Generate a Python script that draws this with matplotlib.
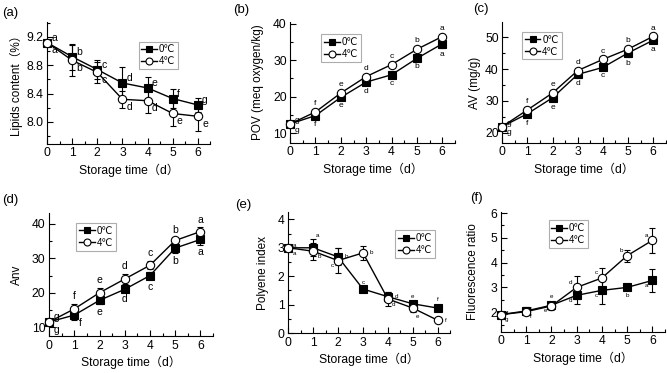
import numpy as np
import matplotlib
matplotlib.use("Agg")
import matplotlib.pyplot as plt
from matplotlib.ticker import AutoMinorLocator, FormatStrFormatter
from matplotlib.lines import Line2D

plt.rcParams['font.family'] = ['Liberation Sans', 'DejaVu Sans', 'Noto Sans CJK SC']
plt.rcParams['font.size'] = 9

days = [0, 1, 2, 3, 4, 5, 6]
series_names = ["0\u2103", "4\u2103"]

# (a) lipids content
lip_0 = [9.12, 8.92, 8.74, 8.55, 8.48, 8.33, 8.24]
lip_4 = [9.12, 8.87, 8.70, 8.32, 8.30, 8.12, 8.08]
lip_0_err = [0.0, 0.18, 0.13, 0.22, 0.15, 0.13, 0.10]
lip_4_err = [0.0, 0.22, 0.15, 0.12, 0.18, 0.18, 0.20]
lip_0_let = ["a", "b", "c", "d", "e", "f", "g"]
lip_4_let = ["a", "b", "c", "d", "d", "e", "e"]

# (b) POV
pov_0 = [12.5, 14.8, 19.8, 24.0, 26.0, 30.5, 34.5]
pov_4 = [12.5, 15.8, 21.0, 25.5, 28.8, 33.0, 36.5]
pov_0_err = [0.3, 0.8, 0.6, 0.8, 0.6, 0.6, 1.2]
pov_4_err = [0.3, 0.6, 0.6, 0.6, 0.6, 0.6, 0.6]
pov_0_let = ["g", "f", "e", "d", "c", "b", "a"]
pov_4_let = ["g", "f", "e", "d", "c", "b", "a"]

# (c) AV
av_0 = [22.0, 26.0, 31.0, 38.3, 40.5, 45.0, 49.0]
av_4 = [22.0, 27.2, 32.5, 39.5, 43.0, 46.2, 50.2]
av_0_err = [0.3, 1.0, 1.0, 1.0, 0.6, 1.2, 0.8]
av_4_err = [0.3, 0.6, 0.8, 0.6, 0.6, 0.6, 0.6]
av_0_let = ["g", "f", "e", "d", "c", "b", "a"]
av_4_let = ["g", "f", "e", "d", "c", "b", "a"]

# (d) Anv
anv_0 = [11.5, 13.5, 17.8, 21.0, 25.0, 33.0, 35.5]
anv_4 = [11.5, 15.3, 20.0, 24.0, 28.0, 35.2, 37.8]
anv_0_err = [0.5, 1.5, 1.0, 0.5, 1.0, 1.5, 1.5]
anv_4_err = [0.5, 1.5, 1.5, 1.5, 1.2, 0.8, 1.2]
anv_0_let = ["g", "f", "e", "d", "c", "b", "a"]
anv_4_let = ["g", "f", "e", "d", "c", "b", "a"]

# (e) polyene index
pi_0 = [3.0, 3.0, 2.68, 1.55, 1.28, 1.03, 0.88]
pi_4 = [3.0, 2.88, 2.55, 2.82, 1.20, 0.88, 0.45]
pi_0_err = [0.0, 0.30, 0.30, 0.06, 0.15, 0.08, 0.12]
pi_4_err = [0.0, 0.30, 0.45, 0.25, 0.25, 0.15, 0.05]
pi_0_let = ["a", "a", "b", "c", "d", "e", "f"]
pi_4_let = ["a", "b", "c", "b", "d", "e", "f"]

# (f) fluorescence ratio
fr_0 = [1.90, 2.05, 2.28, 2.68, 2.88, 3.00, 3.28]
fr_4 = [1.90, 2.02, 2.25, 3.00, 3.38, 4.28, 4.90]
fr_0_err = [0.08, 0.15, 0.10, 0.35, 0.55, 0.10, 0.48]
fr_4_err = [0.08, 0.15, 0.15, 0.45, 0.40, 0.25, 0.50]
fr_0_let = ["g", "f", "e", "d", "c", "b", "a"]
fr_4_let = ["g", "f", "e", "d", "c", "b", "a"]

# letter placement: (dx, dy points, ha, va, anchor: 'e' error end / 'm' marker)
OFF = {"u": (0, 2, "center", "bottom", "e"), "d": (0, -2, "center", "top", "e"),
       "ur": (3, 0, "left", "bottom", "m"), "dr": (3, -2, "left", "top", "m"),
       "r": (5, 0, "left", "center", "m"), "ul": (-3, 2, "right", "bottom", "m"),
       "dl": (-3, -2, "right", "top", "m"), "eur": (2, 1, "left", "bottom", "e"),
       "edr": (2, -1, "left", "top", "e")}

panels = [
    dict(tag="(a)", tagxy=(2, 13), rect=[0.0705, 0.614, 0.245, 0.327],
         ylab="Lipids content\uff08%\uff09", ylx=-0.15,
         y0=lip_0, y4=lip_4, e0=lip_0_err, e4=lip_4_err, l0=lip_0_let, l4=lip_4_let,
         p0=["ur"] * 7, p4=["dr"] * 7, ylim=(7.69, 9.41), yt=[8.0, 8.4, 8.8, 9.2],
         yfmt="%.1f", lfs=7.5, leg=(0.56, 0.84)),
    dict(tag="(b)", tagxy=(233, 10), rect=[0.435, 0.617, 0.247, 0.324],
         ylab="POV (meq oxygen/kg)", ylx=-0.16,
         y0=pov_0, y4=pov_4, e0=pov_0_err, e4=pov_4_err, l0=pov_0_let, l4=pov_4_let,
         p0=["dr"] + ["d"] * 6, p4=["ur"] + ["u"] * 6, ylim=(7.3, 40.5), yt=[10, 20, 30, 40],
         yfmt="%d", lfs=6, leg=(0.19, 0.90)),
    dict(tag="(c)", tagxy=(473, 9), rect=[0.753, 0.617, 0.245, 0.324],
         ylab="AV (mg/g)", ylx=-0.13,
         y0=av_0, y4=av_4, e0=av_0_err, e4=av_4_err, l0=av_0_let, l4=av_4_let,
         p0=["dr"] + ["d"] * 6, p4=["ur"] + ["u"] * 6, ylim=(16.9, 54.7), yt=[20, 30, 40, 50],
         yfmt="%d", lfs=6, leg=(0.12, 0.92)),
    dict(tag="(d)", tagxy=(2, 200), rect=[0.0735, 0.099, 0.246, 0.330],
         ylab="Anv", ylx=-0.16,
         y0=anv_0, y4=anv_4, e0=anv_0_err, e4=anv_4_err, l0=anv_0_let, l4=anv_4_let,
         p0=["dr", "dr"] + ["d"] * 5, p4=["ur"] + ["u"] * 6, ylim=(7.4, 43.2), yt=[10, 20, 30, 40],
         yfmt="%d", lfs=7.5, leg=(0.165, 0.92)),
    dict(tag="(e)", tagxy=(235, 205), rect=[0.432, 0.107, 0.243, 0.324],
         ylab="Polyene index", ylx=-0.12,
         y0=pi_0, y4=pi_4, e0=pi_0_err, e4=pi_4_err, l0=pi_0_let, l4=pi_4_let,
         p0=["ur", "eur", "r", "u", "r", "u", "u"], p4=["dr", "dr", "dl", "r", "dr", "edr", "r"],
         ylim=(0, 4.25), yt=[0, 1, 2, 3, 4], yfmt="%d", lfs=4.5, leg=(0.66, 0.85)),
    dict(tag="(f)", tagxy=(470, 198), rect=[0.751, 0.110, 0.246, 0.322],
         ylab="Fluorescence ratio", ylx=-0.135,
         y0=fr_0, y4=fr_4, e0=fr_0_err, e4=fr_4_err, l0=fr_0_let, l4=fr_4_let,
         p0=["dr", "dr", "dl", "dl", "dl", "d", "dl"], p4=["ur", "ur", "u", "ul", "ul", "ul", "ul"],
         ylim=(1.2, 6.05), yt=[2, 3, 4, 5, 6], yfmt="%d", lfs=4.5, leg=(0.29, 0.93)),
]

fig = plt.figure(figsize=(6.67, 3.73), dpi=100)

for p in panels:
    ax = fig.add_axes(p["rect"])
    handles = []
    for ys, es, mfc, name in [(p["y0"], p["e0"], "black", series_names[0]),
                              (p["y4"], p["e4"], "white", series_names[1])]:
        mk = "s" if mfc == "black" else "o"
        ax.errorbar(days, ys, yerr=es, color="black", lw=1, marker=mk,
                    ms=5.5 if mfc == "black" else 6, mfc=mfc, mec="black", mew=0.8,
                    elinewidth=0.8, capsize=2, capthick=0.8, clip_on=False, zorder=3)
        handles.append(Line2D([], [], color="black", lw=1, marker=mk, ms=5,
                              mfc=mfc, mec="black", mew=0.8, label=name))
    for ys, es, lets, pos in [(p["y0"], p["e0"], p["l0"], p["p0"]),
                              (p["y4"], p["e4"], p["l4"], p["p4"])]:
        for x, y, e, t, c in zip(days, ys, es, lets, pos):
            dx, dy, ha, va, anc = OFF[c]
            yy = y
            if anc == "e":
                yy = y + e if dy > 0 else y - e
            ax.annotate(t, (x, yy), xytext=(dx, dy), textcoords="offset points",
                        ha=ha, va=va, fontsize=p["lfs"], zorder=4)
    ax.set_xlim(0, 6.5)
    ax.set_ylim(*p["ylim"])
    ax.set_xticks(days)
    ax.set_yticks(p["yt"])
    ax.yaxis.set_major_formatter(FormatStrFormatter(p["yfmt"]))
    ax.xaxis.set_minor_locator(AutoMinorLocator(2))
    ax.yaxis.set_minor_locator(AutoMinorLocator(2))
    ax.tick_params(which="both", direction="in", labelsize=8.7, width=0.8, pad=2.5)
    ax.tick_params(which="major", length=4)
    ax.tick_params(which="minor", length=2)
    ax.spines["top"].set_visible(False)
    ax.spines["right"].set_visible(False)
    ax.set_xlabel("Storage time\uff08d\uff09", fontsize=8.7, labelpad=3)
    ax.set_ylabel(p["ylab"], fontsize=8.5)
    ax.yaxis.set_label_coords(p["ylx"], 0.5)
    leg = ax.legend(handles=handles, loc="upper left", bbox_to_anchor=p["leg"], fontsize=7,
                    frameon=True, fancybox=False, edgecolor="#999999", handlelength=1.6,
                    handletextpad=0.2, borderpad=0.3, labelspacing=0.2, borderaxespad=0)
    leg.get_frame().set_linewidth(0.8)
    tx, ty = p["tagxy"]
    fig.text(tx / 667, 1 - ty / 373, p["tag"], fontsize=9.5, ha="left", va="center")

fig.savefig("out.png", dpi=100)
